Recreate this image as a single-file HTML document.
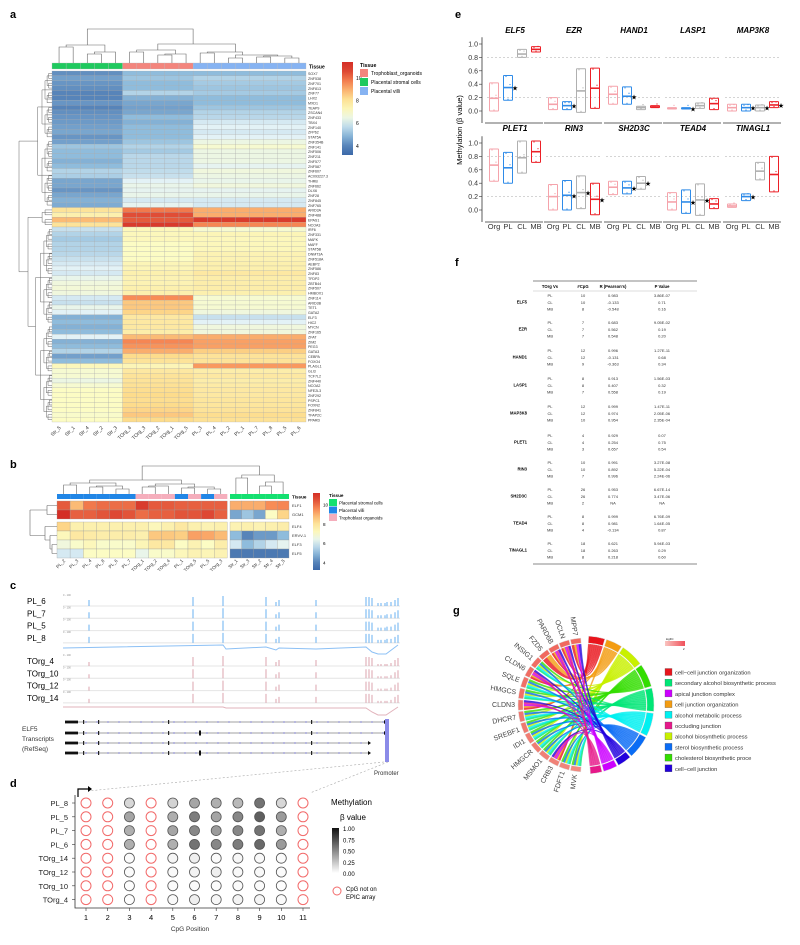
<!DOCTYPE html>
<html><head><meta charset="utf-8">
<style>
body{margin:0;background:#fff}
svg{display:block;font-family:"Liberation Sans",Arial,sans-serif}
</style></head>
<body>
<svg id="fig" width="800" height="945" viewBox="0 0 800 945" xmlns="http://www.w3.org/2000/svg">
<g font-weight="bold" font-size="11">
<text x="10" y="18">a</text>
<text x="10" y="468">b</text>
<text x="10" y="589">c</text>
<text x="10" y="787">d</text>
<text x="455" y="18">e</text>
<text x="455" y="266">f</text>
<text x="453" y="614">g</text>
</g>
<g id="pa"></g>
<g id="pb"></g>
<g id="pc"></g>
<g id="pd"></g>
<g id="pe"></g>
<g id="pf"></g>
<g id="pg"></g>
</svg>
<script>
// ---------- DATA ----------
const colsA=["Str_5","Str_1","Str_4","Str_2","Str_3","TOrg_4","TOrg_3","TOrg_2","TOrg_1","TOrg_5","PL_3","PL_4","PL_2","PL_1","PL_7","PL_8","PL_5","PL_6"];
const colGroupA=[0,0,0,0,0,1,1,1,1,1,2,2,2,2,2,2,2,2];
const genesA=["SOX7","ZNF538","ZNF701","ZNF813","ZNF77","LHX2","MXD1","TEAP9","ZSCAN4","ZNF433","TBX4","ZNF140","ZFP62","STAT5A","ZNF354B","ZNF141","ZNF506","ZNF211","ZNF577","ZNF587","ZNF607","AC093227.3","THRB","ZNF662","DLX6","ZNF28","ZNF845","ZNF765","ARID3A","ZNF488","EPAS1","NCOA3","IRF6","ZNF331","MAFK","MAFF","STAT5B","DNMT3A","ZNF518A","AEBP2","ZNF586","ZNF83","TFDP2","ZBTB44","ZNF507","HMBOX1","ZNF114","ARID3B","TET1","GATA2","ELF3","HIC2","MYCN","ZNF165","ZFAT","ZIM2","PEG3","GATA3","CEBPA","FOXO4","PLAGL1","GLI3","TCF7L2","ZNF440","NCOA2","NFE2L3","ZNF292","PSPC1","FOXN2","ZNF841","TFAP2C","PPARD"];
const strA=[4.2,4.5,4.3,4.2,4,4,4.3,4,4.2,4.3,4.4,4.5,4.6,4.3,4.5,5.2,5,5,4.8,5,5.5,5.4,4.6,4.6,4.3,4.6,4.8,4.7,8,7.5,8.8,8,5.8,5.5,5.3,5.5,5.5,5.6,5.8,6,6.2,6,6.4,6.6,6.7,6.6,6,5.8,6.4,6.2,4.8,5,4.8,5,6.2,4.8,5,5.5,4.5,5,7.2,6.8,6.8,6.5,6.8,7,7,7,7,7,6.9,7];
const orgA=[5,5.2,5,5,5.5,4.8,4.6,4.5,4.6,5,4.8,5,5,5,5.2,5.5,5.3,5.6,5.6,5.6,5.7,5.8,6.2,6.4,6.3,6.4,6,6.3,9.8,10.5,10.3,10.8,7.2,7.2,7.2,7,7,7,7,7.3,7.3,7.5,7.4,7.4,7.5,7.5,9.5,8.6,8.6,8.4,7.8,7.8,7.8,7.6,8.8,9.6,9.4,9,8.3,8,7.3,7.8,8,8,8.1,8.2,8.3,8.2,8.3,8.4,8.6,8.3];
const plA=[5,5.5,5.3,5.2,5.3,5,5,5.2,5.5,5.6,6,6.2,6,6.2,6.5,6.8,6.5,6.5,6.5,6.3,6.6,6.5,6.4,6.6,6.3,6.4,6,6,9,9,10.8,9.6,6.8,7.3,7.2,7.2,7.2,7.4,7.4,7.5,7.5,7.8,7.6,7.6,7.6,7.5,6.8,6.8,6.8,6.6,5.8,6.2,6.6,6.6,9,9.2,9.2,8.5,8,8,9.3,7.6,7.8,7.6,7.7,7.8,7.8,7.9,7.9,8,8.2,8.1];

const colsB=["PL_2","PL_3","PL_4","PL_8","PL_6","PL_7","TOrg_1","TOrg_2","TOrg_4","PL_1","TOrg_5","PL_5","TOrg_3","Str_1","Str_3","Str_2","Str_4","Str_5"];
const colGroupB=[1,1,1,1,1,1,2,2,2,1,2,1,2,0,0,0,0,0];
const genesB=["ELF1","GCM1","ELF4","ERVV-1","ELF3","ELF5"];
const valsB=[
[10.3,8.8,9.8,10,10,10,10.8,10.3,10.3,10.2,10.2,10.2,10.2,9,9,9,9.5,9.6],
[11,10.2,10.2,10.4,10.6,10.4,10,10.2,10.2,10.4,10.4,10.6,10.2,4.6,5.2,4.6,7,8.4],
[8.4,7.5,7.5,7.5,7.5,7.5,7.5,7.2,7.5,7.8,7.5,7.4,7.5,7.4,7.5,7.4,7.5,7.6],
[7.2,7.8,7.7,7.6,7.6,7.6,7.5,8.6,8.6,8.5,9.2,9.1,8.8,5,4,4.4,4.4,5],
[6.6,6.9,7.2,6.9,6.9,6.9,7.3,7.8,7.8,7,7.4,7,7.6,6,5,5.5,6,6.3],
[6,6,7,7,7,7,6.4,6.9,6.9,7.2,7.4,7.3,7.4,3.8,3.8,3.8,3.8,3.8]];

const spikePos=[89,193,223,266,276,279,316,366,369,372,378,381,385,387,391,395,398];
const spikeHPL=[6,9,10,9,4,6,6,9,9,8,3,3,3,4,4,6,8];
const spikeHOrg=[4,9,10,9,4,6,6,9,9,8,2,2,2,2,3,6,8];
const tracksPL=["PL_6","PL_7","PL_5","PL_8"];
const tracksOrg=["TOrg_4","TOrg_10","TOrg_12","TOrg_14"];

const rowsD=["PL_8","PL_5","PL_7","PL_6","TOrg_14","TOrg_12","TOrg_10","TOrg_4"];
const cpgPos=[1,2,3,4,5,6,7,8,9,10,11];
const betaD=[
[null,null,0.2,null,0.22,0.45,0.4,0.35,0.7,0.2,null],
[null,null,0.45,null,0.4,0.65,0.45,0.6,0.8,0.5,null],
[null,null,0.4,null,0.45,0.6,0.5,0.6,0.7,0.4,null],
[null,null,0.4,null,0.4,0.7,0.6,0.65,0.75,0.5,null],
[null,null,0.02,null,0.05,0.08,0.02,0.04,0.03,0.02,null],
[null,null,0.02,null,0.03,0.06,0.08,0.03,0.03,0.02,null],
[null,null,0.01,null,0.02,0.02,0.02,0.02,0.02,0.01,null],
[null,null,0.01,null,0.03,0.08,0.04,0.06,0.05,0.02,null]];

const genesE=["ELF5","EZR","HAND1","LASP1","MAP3K8","PLET1","RIN3","SH2D3C","TEAD4","TINAGL1"];
const groupsE=["Org","PL","CL","MB"];
const medE=[[0.19,0.35,0.85,0.92],[0.1,0.08,0.3,0.34],[0.25,0.22,0.05,0.06],[0.04,0.04,0.08,0.11],[0.05,0.05,0.05,0.09],[0.67,0.63,0.78,0.87],[0.2,0.22,0.26,0.16],[0.34,0.33,0.4,null],[0.12,0.12,0.15,0.09],[0.06,0.2,0.58,0.53]];
const loE=[[0,0.16,0.8,0.88],[0.02,0.02,-0.02,0.04],[0.1,0.1,0.02,0.05],[0.03,0.03,0.04,0.02],[0,0,0,0.05],[0.43,0.4,0.55,0.71],[0,0,0.02,-0.07],[0.23,0.24,0.31,null],[0,-0.05,-0.08,0.02],[0.04,0.14,0.45,0.27]];
const hiE=[[0.42,0.53,0.92,0.96],[0.2,0.14,0.63,0.64],[0.37,0.36,0.07,0.08],[0.05,0.05,0.12,0.19],[0.1,0.1,0.09,0.14],[0.91,0.86,1.03,1.03],[0.38,0.44,0.51,0.4],[0.43,0.43,0.5,null],[0.26,0.3,0.39,0.17],[0.09,0.24,0.71,0.8]];
const starE=[[1],[1],[1],[1],[1,2,3],[],[1,2,3],[1,2],[1,2],[1]];
const yTicksE=[0,0.2,0.4,0.6,0.8,1.0];

const tblGenes=["ELF5","EZR","HAND1","LASP1","MAP3K8","PLET1","RIN3","SH2D3C","TEAD4","TINAGL1"];
const tblCpG=[[10,10,8],[7,7,7],[12,12,9],[8,8,7],[12,12,10],[4,4,3],[10,10,7],[26,26,2],[8,8,4],[18,18,8]];
const tblR=[["0.983","-0.133","-0.548"],["0.683","0.562","0.548"],["0.996","-0.131","-0.363"],["0.913","0.407","0.558"],["0.999","0.974","0.954"],["0.929","0.254","0.657"],["0.991","0.892","0.996"],["0.953","0.774","NA"],["0.999","0.981","-0.134"],["0.621","0.263","0.218"]];
const tblP=[["3.86E-07","0.71","0.16"],["9.05E-02","0.19","0.20"],["1.27E-11","0.68","0.34"],["1.56E-03","0.32","0.19"],["1.47E-11","2.05E-06","2.35E-04"],["0.07","0.75","0.54"],["3.27E-08","5.22E-04","2.24E-06"],["6.67E-14","3.47E-06","NA"],["6.76E-09","1.64E-05","0.87"],["5.94E-03","0.29","0.60"]];

const chordGenes=["MVK","FDFT1","CRB3","MSMO1","HMGCR","IDI1","SREBF1","DHCR7","CLDN3","HMGCS","SQLE","CLDN6","INSIG1","FZD5","PARD6B","OCLN","MPP7"];
const geneLogFC=[1.2,1.3,1.4,1.4,1.5,1.5,1.6,1.6,1.7,1.8,1.8,1.9,1.9,2,2,2,2];
const terms=["cell\u2212cell junction organization","secondary alcohol biosynthetic process","apical junction complex","cell junction organization","alcohol metabolic process","occluding junction","alcohol biosynthetic process","sterol biosynthetic process","cholesterol biosynthetic proce","cell\u2212cell junction"];
const termColors=["#e8141c","#00e676","#cc00ff","#f39c12","#00f0f0","#e6198a","#c8f000","#0a6cf5","#33dd00","#2200dd"];
const termRingOrder=[0,3,6,8,1,4,7,9,2,5];
const geneLinks=[[1,4,6,7,8],[1,4,6,7,8],[0,3,2,5,9],[1,4,6,7,8],[1,4,6,7,8],[1,4,6,7,8],[1,4,6,7,8],[1,4,6,7,8],[0,3,2,5,9],[1,4,6,7,8],[1,4,6,7,8],[0,3,2,5,9],[1,4,6,7,8],[0,3],[0,3,2,5,9],[0,3,2,5,9],[0,3,2,9]];

// ---------- HELPERS ----------
const NS="http://www.w3.org/2000/svg";
function mk(parent,tag,attrs,text){const e=document.createElementNS(NS,tag);for(const k in attrs)e.setAttribute(k,attrs[k]);if(text!==undefined)e.textContent=text;parent.appendChild(e);return e;}
function hex(c){return [parseInt(c.substr(1,2),16),parseInt(c.substr(3,2),16),parseInt(c.substr(5,2),16)];}
const stops=[[3.5,"#3b68a8"],[5,"#8fbcdc"],[6.2,"#e3f2f6"],[7,"#fcfcc4"],[8.3,"#fddc8c"],[9.5,"#f88c56"],[11,"#d42e26"]];
function heat(v){if(v<=stops[0][0])return stops[0][1];for(let i=1;i<stops.length;i++){if(v<=stops[i][0]){const t=(v-stops[i-1][0])/(stops[i][0]-stops[i-1][0]);const a=hex(stops[i-1][1]),b=hex(stops[i][1]);return "rgb("+a.map((x,j)=>Math.round(x+(b[j]-x)*t)).join(",")+")";}}return stops[stops.length-1][1];}
function colorbar(g,x,y,w,h,vmin,vmax,ticks,fs){
  const id="cb"+x;const d=mk(g,"defs",{});const lg=mk(d,"linearGradient",{id:id,x1:0,y1:1,x2:0,y2:0});
  for(let i=0;i<=10;i++){const v=vmin+(vmax-vmin)*i/10;mk(lg,"stop",{offset:i/10,"stop-color":heat(v)});}
  const r=mk(g,"rect",{x:x,y:y,width:w,height:h,fill:"url(#"+id+")"});
  
  
  ticks.forEach(t=>{const ty=y+h-(t-vmin)/(vmax-vmin)*h;mk(g,"text",{x:x+w+3,y:ty+2,"font-size":fs},t);});
}

// ---------- PANEL A ----------
(function(){
const g=document.getElementById("pa");
const x0=52,x1=306,y0=71,y1=422;
const cw=(x1-x0)/colsA.length,rh=(y1-y0)/genesA.length;
const grpCol=["#1fc95e","#f3857d","#86b3f2"];
const vals=[strA,orgA,plA];
colsA.forEach((c,j)=>{
  const a=mk(g,"rect",{x:x0+j*cw,y:63,width:cw,height:6,fill:grpCol[colGroupA[j]],stroke:"#bbb","stroke-width":0.3});
  
  
  genesA.forEach((gn,i)=>{
    const r=mk(g,"rect",{x:x0+j*cw,y:y0+i*rh,width:cw,height:rh,fill:heat(vals[colGroupA[j]][i]),stroke:"#a8a8a8","stroke-width":0.25});
    
    
  });
  const t=mk(g,"text",{x:x0+j*cw+cw/2+2,y:428,"font-size":5,"text-anchor":"end",transform:"rotate(-45 "+(x0+j*cw+cw/2+2)+" 428)",fill:"#333"},c);
  
  
});
genesA.forEach((gn,i)=>{const t=mk(g,"text",{x:x1+2,y:y0+i*rh+rh*0.85,"font-size":3.6,fill:"#333"},gn);
  
  });
mk(g,"text",{x:x1+3,y:68.5,"font-size":5,"font-weight":"bold"},"Tissue");
const cx=j=>x0+j*cw+cw/2;
const dl="M"+cx(0)+" 63V47H"+cx(1)+"V63 M"+cx(2)+" 63V54H"+cx(3)+"V63 M"+(cx(2)+cx(3))/2+" 54V52H"+cx(4)+"V63 M"+(cx(0)+cx(1))/2+" 47V45H"+((cx(2)+cx(3))/2+cx(4))/2+"V52"
+" M"+cx(5)+" 63V52H"+cx(6)+"V63 M"+cx(7)+" 63V55H"+cx(8)+"V63 M"+(cx(7)+cx(8))/2+" 55V54H"+cx(9)+"V63 M"+(cx(5)+cx(6))/2+" 52V50H"+((cx(7)+cx(8))/2+cx(9))/2+"V54"
+" M"+cx(10)+" 63V53H"+cx(11)+"V63 M"+cx(12)+" 63V58H"+cx(13)+"V63 M"+cx(14)+" 63V57H"+cx(15)+"V63 M"+cx(16)+" 63V58H"+cx(17)+"V63 M"+(cx(14)+cx(15))/2+" 57V56H"+(cx(16)+cx(17))/2+"V58 M"+(cx(12)+cx(13))/2+" 58V55H"+((cx(14)+cx(15))/2+(cx(16)+cx(17))/2)/2+"V56 M"+(cx(10)+cx(11))/2+" 53V52H"+(cx(12)+cx(13)+cx(14)/1)/3+"V55"
+" M"+(cx(5)+cx(9))/2+" 50V44H"+(cx(10)+cx(15))/2+"V52 M"+(cx(0)+cx(4))/2+" 45V29H"+(cx(6)+cx(13))/2+"V44";
const p=mk(g,"path",{d:dl,fill:"none",stroke:"#666","stroke-width":0.6});


const ry=i=>y0+i*rh+rh/2;let rd="";
function tree(a,b,h){if(b-a<1){return ry(a);}const m=Math.floor((a+b)/2);const ya=tree(a,m,h*0.7),yb=tree(m+1,b,h*0.7);const xa=52-h*0.55;rd+="M52 "+ya+"H"+xa+" M52 "+yb+"H"+xa+" M"+xa+" "+ya+"V"+yb+" ";return (ya+yb)/2;}
const c1=tree(0,27,26),c2=tree(28,31,18),c3=tree(32,71,30);
rd+="M"+(52-18*0.55)+" "+c2+"H28 M"+(52-30*0.55)+" "+c3+"H28 M28 "+c2+"V"+c3+" M"+(52-26*0.55)+" "+c1+"H19 M28 "+(c2+c3)/2+"H19 M19 "+c1+"V"+(c2+c3)/2;
const q=mk(g,"path",{d:rd,fill:"none",stroke:"#666","stroke-width":0.5});


colorbar(g,342,62,11,93,3.2,11.4,[4,6,8,10],5);
mk(g,"text",{x:360,y:67,"font-size":5.2,"font-weight":"bold"},"Tissue");
["Trophoblast_organoids","Placental stromal cells","Placental villi"].forEach((s,i)=>{
  const r=mk(g,"rect",{x:360,y:69+i*9,width:8,height:8,fill:grpCol[[1,0,2][i]]});
  
  
  mk(g,"text",{x:371,y:75+i*9,"font-size":5},s);});
})();

// ---------- PANEL B ----------
(function(){
const g=document.getElementById("pb");
const grpCol=["#14e070","#2186e6","#f5aebc"];
const cw=13.1,rh=9;
const colX=j=>j<13?57+j*cw:230+(j-13)*11.8;
const colW=j=>j<13?cw:11.8;
const rowY=i=>i<2?501+i*rh:522+(i-2)*rh;
colsB.forEach((c,j)=>{
  const a=mk(g,"rect",{x:colX(j),y:494,width:colW(j),height:5,fill:grpCol[colGroupB[j]]});
  
  
  genesB.forEach((gn,i)=>{const r=mk(g,"rect",{x:colX(j),y:rowY(i),width:colW(j),height:rh,fill:heat(valsB[i][j]),stroke:"#999","stroke-width":0.3});
    
    });
  const tx=colX(j)+colW(j)/2+2;
  mk(g,"text",{x:tx,y:561,"font-size":4.6,"text-anchor":"end",transform:"rotate(-45 "+tx+" 561)",fill:"#333"},c);
});
genesB.forEach((gn,i)=>mk(g,"text",{x:292,y:rowY(i)+6,"font-size":4,fill:"#333"},gn));
mk(g,"text",{x:292,y:498.5,"font-size":4.6,"font-weight":"bold"},"Tissue");
const cx=j=>colX(j)+colW(j)/2;
const d="M"+cx(13)+" 494V478H"+cx(14)+"V494 M"+cx(15)+" 494V486H"+cx(16)+"V494 M"+(cx(15)+cx(16))/2+" 486V482H"+cx(17)+"V494 M"+(cx(13)+cx(14))/2+" 478V475H"+((cx(15)+cx(16))/2+cx(17))/2+"V482"
+" M"+cx(0)+" 494V485H"+cx(1)+"V494 M"+cx(2)+" 494V487H"+cx(3)+"V494 M"+cx(4)+" 494V489H"+cx(5)+"V494 M"+(cx(2)+cx(3))/2+" 487V486H"+(cx(4)+cx(5))/2+"V489 M"+(cx(0)+cx(1))/2+" 485V483H"+cx(4)+"V486"
+" M"+cx(6)+" 494V487H"+cx(7)+"V494 M"+(cx(6)+cx(7))/2+" 487V486H"+cx(8)+"V494 M"+cx(9)+" 494V488H"+cx(10)+"V494 M"+cx(11)+" 494V489H"+cx(12)+"V494 M"+(cx(9)+cx(10))/2+" 488V487H"+(cx(11)+cx(12))/2+"V489 M"+cx(7)+" 486V484H"+cx(10)+"V487 M"+cx(2)+" 483V480H"+cx(9)+"V484"
+" M"+cx(6)+" 480V466H"+cx(15)+"V475";
const p=mk(g,"path",{d:d,fill:"none",stroke:"#666","stroke-width":0.6});


const rd="M57 "+(rowY(0)+4.5)+"H47 M57 "+(rowY(1)+4.5)+"H47 M47 "+(rowY(0)+4.5)+"V"+(rowY(1)+4.5)
+" M57 "+(rowY(2)+4.5)+"H45 M57 "+(rowY(3)+4.5)+"H50 M57 "+(rowY(4)+4.5)+"H52 M57 "+(rowY(5)+4.5)+"H52 M52 "+(rowY(4)+4.5)+"V"+(rowY(5)+4.5)+" M50 "+(rowY(3)+4.5)+"V"+(rowY(4)+9)+" M52 "+(rowY(4)+9)+"H50 M45 "+(rowY(2)+4.5)+"V"+(rowY(4))+" M50 "+rowY(4)+"H45 M47 "+(rowY(0)+9)+"H30 M45 "+(rowY(3)+4.5)+"H30 M30 "+(rowY(0)+9)+"V"+(rowY(3)+4.5);
const q=mk(g,"path",{d:rd,fill:"none",stroke:"#666","stroke-width":0.6});


colorbar(g,313,493,7,77,3.2,11.2,[4,6,8,10],4.6);
mk(g,"text",{x:329,y:497,"font-size":4.6,"font-weight":"bold"},"Tissue");
["Placental stromal cells","Placental villi","Trophoblast organoids"].forEach((s,i)=>{
  const r=mk(g,"rect",{x:329,y:499+i*7.5,width:8,height:7,fill:grpCol[i]});
  
  
  mk(g,"text",{x:339,y:504.5+i*7.5,"font-size":4.4},s);});
})();

// ---------- PANEL C ----------
(function(){
const g=document.getElementById("pc");
function tracks(names,y0,heights,col){
  names.forEach((n,k)=>{const ty=y0+k*12.3;
    const t=mk(g,"text",{x:27,y:ty+4,"font-size":8},n);
    
    
    mk(g,"text",{x:63,y:ty-4,"font-size":2.5,fill:"#888"},"0 - 100");
    mk(g,"line",{x1:63,x2:400,y1:ty+6,y2:ty+6,stroke:"#e4e4e4","stroke-width":1});
    spikePos.forEach((sx,i)=>{const s=mk(g,"line",{x1:sx,x2:sx,y1:ty+6,y2:ty+6-heights[i],stroke:col,"stroke-width":0.9});
      
      });
  });
}
tracks(tracksPL,600,spikeHPL,"#5aa8f0");
mk(g,"path",{d:"M63 648L223 645L226 649L266 647L276 650L279 648L316 649L366 647L372 652L378 654L386 654L398 645",fill:"none",stroke:"#8cc0f5","stroke-width":1});
tracks(tracksOrg,660,spikeHOrg,"#d89aa6");
mk(g,"path",{d:"M63 707L223 707L226 708L366 708L372 712L378 715L386 715L398 707",fill:"none",stroke:"#e2b3bb","stroke-width":1});
const ty=[722,733,743,753],ends=[384,384,368,368];
ty.forEach((y,k)=>{
  const tr=mk(g,"g",{});
  
  
  mk(tr,"line",{x1:66,x2:ends[k],y1:y,y2:y,stroke:"#444","stroke-width":0.6});
  for(let x=86;x<ends[k];x+=11)mk(tr,"circle",{cx:x,cy:y,r:0.6,fill:"#5555dd"});
  mk(tr,"rect",{x:65,y:y-1.4,width:13,height:2.8,fill:"#111"});
  [83,98,168,311].forEach(x=>mk(tr,"rect",{x:x,y:y-2,width:1.2,height:4,fill:"#222"}));
  if(k==1||k==3)mk(tr,"rect",{x:199,y:y-2.5,width:2,height:5,fill:"#111"});
  mk(tr,"path",{d:"M"+ends[k]+" "+(y-2)+"L"+(ends[k]+3)+" "+y+"L"+ends[k]+" "+(y+2)+"Z",fill:"#111"});
});
mk(g,"text",{x:22,y:731,"font-size":6.5,fill:"#333"},"ELF5");
mk(g,"text",{x:22,y:741,"font-size":6.5,fill:"#333"},"Transcripts");
mk(g,"text",{x:22,y:751,"font-size":6.5,fill:"#333"},"(RefSeq)");
const pr=mk(g,"rect",{x:385,y:719,width:4,height:43,fill:"#8b8be8"});


mk(g,"text",{x:374,y:775,"font-size":6,fill:"#333"},"Promoter");
mk(g,"line",{x1:384,y1:762,x2:88,y2:791,stroke:"#aaa","stroke-width":0.6,"stroke-dasharray":"2,2"});
mk(g,"line",{x1:388,y1:762,x2:310,y2:793,stroke:"#aaa","stroke-width":0.6,"stroke-dasharray":"2,2"});
})();

// ---------- PANEL D ----------
(function(){
const g=document.getElementById("pd");
const xs=p=>86+(p-1)*21.7, ys=i=>803+i*13.8;
mk(g,"path",{d:"M78 797V789H89",fill:"none",stroke:"#000","stroke-width":1.2});
mk(g,"path",{d:"M88 786L92 789L88 792Z",fill:"#000"});
mk(g,"path",{d:"M75 795V908H310",fill:"none",stroke:"#333","stroke-width":0.8});
rowsD.forEach((r,i)=>{
  mk(g,"text",{x:68,y:ys(i)+3,"font-size":7.5,"text-anchor":"end",fill:"#222"},r);
  mk(g,"line",{x1:72,x2:75,y1:ys(i),y2:ys(i),stroke:"#333","stroke-width":0.6});
  cpgPos.forEach((p,j)=>{const b=betaD[i][j];let c;
    if(b===null){c=mk(g,"circle",{cx:xs(p),cy:ys(i),r:5,fill:"#fff",stroke:"#f26a6a","stroke-width":1});}
    else{const v=Math.round(255-b*200);c=mk(g,"circle",{cx:xs(p),cy:ys(i),r:5,fill:"rgb("+v+","+v+","+v+")",stroke:"#555","stroke-width":0.8});}
    
    });
});
cpgPos.forEach(p=>{mk(g,"line",{x1:xs(p),x2:xs(p),y1:908,y2:911,stroke:"#333","stroke-width":0.6});mk(g,"text",{x:xs(p),y:920,"font-size":7.5,"text-anchor":"middle"},p);});
mk(g,"text",{x:190,y:931,"font-size":6.5,"text-anchor":"middle",fill:"#333"},"CpG Position");
mk(g,"text",{x:331,y:805,"font-size":8},"Methylation");
mk(g,"text",{x:340,y:820,"font-size":8},"β value");
const d=mk(g,"defs",{});const lg=mk(d,"linearGradient",{id:"gd",x1:0,y1:0,x2:0,y2:1});
mk(lg,"stop",{offset:0,"stop-color":"#111"});mk(lg,"stop",{offset:1,"stop-color":"#fff"});
const cb=mk(g,"rect",{x:332,y:828,width:7,height:45,fill:"url(#gd)"});


["1.00","0.75","0.50","0.25","0.00"].forEach((t,i)=>mk(g,"text",{x:343,y:831+i*11.3,"font-size":6},t));
mk(g,"circle",{cx:337,cy:891,r:4,fill:"#fff",stroke:"#f26a6a","stroke-width":1});
mk(g,"text",{x:346,y:891,"font-size":6},"CpG not on");
mk(g,"text",{x:346,y:899,"font-size":6},"EPIC array");
})();

// ---------- PANEL E ----------
(function(){
const g=document.getElementById("pe");
const facX=[487,546,606,665,725],fw=56;
const gcol=["#f5a3ab","#2f8be8","#b0b0b0","#ec2027"];
const yZero=[111,210],ySpan=67;
for(let row=0;row<2;row++){
  const ysc=v=>yZero[row]-v*ySpan;
  mk(g,"line",{x1:482,x2:482,y1:ysc(1.1),y2:yZero[row]+12,stroke:"#333","stroke-width":0.8});
  yTicksE.forEach(t=>{mk(g,"text",{x:478,y:ysc(t)+2.5,"font-size":7,"text-anchor":"end",fill:"#333"},t.toFixed(1));mk(g,"line",{x1:479,x2:482,y1:ysc(t),y2:ysc(t),stroke:"#333","stroke-width":0.6});});
  for(let c=0;c<5;c++){
    const k=row*5+c,fx=facX[c];
    const fg=mk(g,"g",{});
    
    
    mk(fg,"text",{x:fx+fw/2,y:row?131:33,"font-size":8,"font-weight":"bold","font-style":"italic","text-anchor":"middle"},genesE[k]);
    [0.2,0.8].forEach(t=>mk(fg,"line",{x1:fx,x2:fx+fw,y1:ysc(t),y2:ysc(t),stroke:"#bbb","stroke-width":0.6,"stroke-dasharray":"2,2"}));
    mk(fg,"line",{x1:fx-2,x2:fx+fw,y1:yZero[row]+12,y2:yZero[row]+12,stroke:"#333","stroke-width":0.8});
    groupsE.forEach((gr,j)=>{
      const cx=fx+7+j*14;
      if(row==1)mk(fg,"text",{x:cx,y:229,"font-size":7.5,"text-anchor":"middle",fill:"#333"},gr);
      if(medE[k][j]===null)return;
      const b=mk(fg,"rect",{x:cx-4.5,y:ysc(hiE[k][j]),width:9,height:ysc(loE[k][j])-ysc(hiE[k][j]),fill:"none",stroke:gcol[j],"stroke-width":1,rx:0.5});
      
      
      mk(fg,"line",{x1:cx-4.5,x2:cx+4.5,y1:ysc(medE[k][j]),y2:ysc(medE[k][j]),stroke:gcol[j],"stroke-width":1.6});
      if(starE[k].indexOf(j)>=0)mk(fg,"text",{x:cx+7,y:ysc(medE[k][j])+3,"font-size":7,"text-anchor":"middle"},"★");
      [hiE[k][j],loE[k][j],medE[k][j]].forEach((v,m)=>mk(fg,"circle",{cx:cx-2+m*2,cy:ysc(v)+(m==2?-3:m?-1:1),r:0.6,fill:gcol[j]}));
    });
  }
}
const yl=mk(g,"text",{x:462,y:130,"font-size":7.5,"text-anchor":"middle",transform:"rotate(-90 462 130)"},"Methylation (β value)");


})();

// ---------- PANEL F ----------
(function(){
const g=document.getElementById("pf");
mk(g,"line",{x1:533,x2:697,y1:281,y2:281,stroke:"#888","stroke-width":1});
mk(g,"line",{x1:533,x2:697,y1:291,y2:291,stroke:"#bbb","stroke-width":0.5});
mk(g,"line",{x1:533,x2:697,y1:564,y2:564,stroke:"#888","stroke-width":1});
const hx=[550,583,613,662];
["TOrg Vs","#CpG","R (Pearson's)","P Value"].forEach((h,i)=>mk(g,"text",{x:hx[i],y:288,"font-size":4.2,"font-weight":"bold","text-anchor":"middle"},h));
const gy=[295,322,350,378,406,435,462,489,516,543];
tblGenes.forEach((gn,i)=>{
  const row=mk(g,"g",{});
  
  
  mk(row,"text",{x:527,y:gy[i]+8.5,"font-size":4.2,"font-weight":"bold","text-anchor":"end"},gn);
  ["PL","CL","MB"].forEach((c,r)=>{const y=gy[i]+2+r*6.8;
    mk(row,"text",{x:hx[0],y:y,"font-size":4,"text-anchor":"middle",fill:"#333"},c);
    mk(row,"text",{x:hx[1],y:y,"font-size":4,"text-anchor":"middle",fill:"#333"},tblCpG[i][r]);
    mk(row,"text",{x:hx[2],y:y,"font-size":4,"text-anchor":"middle",fill:"#333"},tblR[i][r]);
    mk(row,"text",{x:hx[3],y:y,"font-size":4,"text-anchor":"middle",fill:"#333"},tblP[i][r]);});
});
})();

// ---------- PANEL G ----------
(function(){
const g=document.getElementById("pg");
const cx=585,cy=705,R=61,R2=67;
const pt=(a,r)=>[cx+r*Math.sin(a*Math.PI/180),cy-r*Math.cos(a*Math.PI/180)];
function arcSeg(a0,a1,r0,r1){const p0=pt(a0,r1),p1=pt(a1,r1),p2=pt(a1,r0),p3=pt(a0,r0);const lf=(a1-a0)>180?1:0;return "M"+p0+"A"+r1+" "+r1+" 0 "+lf+" 1 "+p1+"L"+p2+"A"+r0+" "+r0+" 0 "+lf+" 0 "+p3+"Z";}
const tCount=terms.map(()=>0);geneLinks.forEach(l=>l.forEach(t=>tCount[t]++));
const gA0=183,gA1=357,gStep=(gA1-gA0)/chordGenes.length,gGap=1.2;
const tot=tCount.reduce((a,b)=>a+b,0);const tA0=3,tA1=177,tGap=1.5;const tUnit=(tA1-tA0-tGap*terms.length)/tot;
const tStart={};let a=tA0;termRingOrder.forEach(t=>{tStart[t]=a;a+=tCount[t]*tUnit+tGap;});
const tFill={};termRingOrder.forEach(t=>tFill[t]=tStart[t]);
chordGenes.forEach((gn,i)=>{
  const ga=gA0+i*gStep+gGap/2,gw=(gStep-gGap)/geneLinks[i].length;
  geneLinks[i].forEach((t,m)=>{
    const s0=ga+m*gw,s1=s0+gw,e0=tFill[t],e1=e0+tUnit;tFill[t]=e1;
    const A=pt(s0,R),B=pt(s1,R),C=pt(e0,R),D=pt(e1,R);
    const d="M"+A+"A"+R+" "+R+" 0 0 1 "+B+"Q"+cx+" "+cy+" "+C+"A"+R+" "+R+" 0 0 1 "+D+"Q"+cx+" "+cy+" "+A+"Z";
    const p=mk(g,"path",{d:d,fill:termColors[t],"fill-opacity":0.8,stroke:termColors[t],"stroke-width":0.2});
    
    
  });
});
chordGenes.forEach((gn,i)=>{
  const a0=gA0+i*gStep+gGap/2,a1=a0+gStep-gGap;
  const f=Math.round(255-(geneLogFC[i]-1)*40);
  const s=mk(g,"path",{d:arcSeg(a0,a1,R+1,R2),fill:"rgb(240,"+(f-110)+","+(f-120)+")",stroke:"#ddd","stroke-width":0.5});
  
  
  const am=(a0+a1)/2,p=pt(am,R2+3);
  const t=mk(g,"text",{x:p[0],y:p[1]+2,"font-size":7,"text-anchor":"end",fill:"#444",transform:"rotate("+(am-270)+" "+p[0]+" "+p[1]+")"},gn);
  
  
});
termRingOrder.forEach(t=>{const s=mk(g,"path",{d:arcSeg(tStart[t],tStart[t]+tCount[t]*tUnit,R+1,R2+2),fill:termColors[t],stroke:"#ddd","stroke-width":0.5});
  
  });
const d=mk(g,"defs",{});const lg=mk(d,"linearGradient",{id:"gfc"});mk(lg,"stop",{offset:0,"stop-color":"#f9c4c0"});mk(lg,"stop",{offset:1,"stop-color":"#f0505a"});
mk(g,"text",{x:666,y:640,"font-size":2.8},"logFC");
const lb=mk(g,"rect",{x:665,y:641,width:20,height:5,fill:"url(#gfc)"});


mk(g,"text",{x:683,y:650,"font-size":2.8},"2");
terms.forEach((t,i)=>{const y=672+i*10.7;
  const r=mk(g,"rect",{x:665,y:y-3.5,width:7,height:7,fill:termColors[i],stroke:"#555","stroke-width":0.3});
  
  
  mk(g,"text",{x:675,y:y+2.5,"font-size":5.8,fill:"#333"},t);});
})();
</script>
</body></html>
